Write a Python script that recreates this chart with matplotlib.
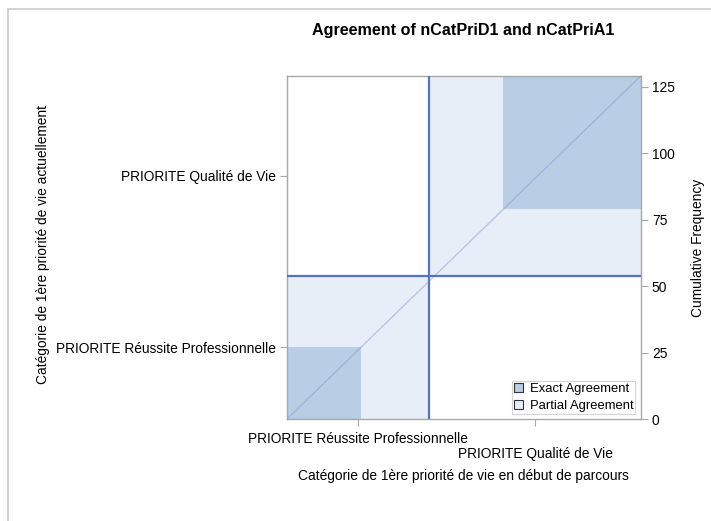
import matplotlib
matplotlib.use("Agg")
import matplotlib.pyplot as plt
from matplotlib.patches import Rectangle, Patch
import numpy as np

# Categories (same for both variables)
categories = ["PRIORITE Réussite Professionnelle", "PRIORITE Qualité de Vie"]
# counts[y_cat][x_cat] : y = nCatPriA1 (actuellement), x = nCatPriD1 (début)
counts = np.array([[27, 27],
                   [25, 50]])
right_ticks = [0, 25, 50, 75, 100, 125]

title = "Agreement of nCatPriD1 and nCatPriA1"
xlabel = "Catégorie de 1ère priorité de vie en début de parcours"
ylabel = "Catégorie de 1ère priorité de vie actuellement"
rlabel = "Cumulative Frequency"

plt.rcParams['font.family'] = ['Liberation Sans', 'DejaVu Sans']

dark = "#B9CDE5"
light = "#E8EEF7"
line_col = "#5573C0"
frame_col = "#A8A8A8"

W, H = 711, 521
fig = plt.figure(figsize=(W / 100, H / 100), dpi=100)
ax = fig.add_axes([286.7 / W, 1 - 419.3 / H, 354 / W, 343.3 / H])

N = counts.sum()
col_tot = counts.sum(axis=0)
row_tot = counts.sum(axis=1)
col_cum = np.concatenate([[0], np.cumsum(col_tot)])
row_cum = np.concatenate([[0], np.cumsum(row_tot)])

k = len(categories)
for i in range(k):
    # partial agreement box (row total x column total)
    ax.add_patch(Rectangle((col_cum[i], row_cum[i]), col_tot[i], row_tot[i],
                           facecolor=light, edgecolor="none", zorder=1))
    # exact agreement square
    x0 = col_cum[i] + counts[:i, i].sum()
    y0 = row_cum[i] + counts[i, :i].sum()
    ax.add_patch(Rectangle((x0, y0), counts[i, i], counts[i, i],
                           facecolor=dark, edgecolor="none", zorder=2))

for c in col_cum[1:-1]:
    ax.axvline(c, color=line_col, lw=1.6, zorder=4)
for r in row_cum[1:-1]:
    ax.axhline(r, color=line_col, lw=1.6, zorder=4)
ax.plot([0, N], [0, N], color="#7F97D0", lw=1.0, alpha=0.45, zorder=3)

ax.set_xlim(0, N)
ax.set_ylim(0, N)
for s in ax.spines.values():
    s.set_color(frame_col)
    s.set_linewidth(1.0)

fs = 9.9
x_mid = (col_cum[:-1] + col_cum[1:]) / 2
y_mid = (row_cum[:-1] + row_cum[1:]) / 2
ax.set_xticks(x_mid)
ax.set_xticklabels([])
ax.set_yticks(y_mid)
ax.set_yticklabels(categories, fontsize=fs)
ax.tick_params(axis="both", color=frame_col, length=5, pad=3)
# staggered x tick labels
for j, (xm, lab) in enumerate(zip(x_mid, categories)):
    ax.annotate(lab, xy=(xm, 0), xycoords=("data", "axes fraction"),
                xytext=(0, -9 - 11 * j), textcoords="offset points",
                ha="center", va="top", fontsize=fs)

ax2 = ax.twinx()
ax2.set_ylim(0, N)
ax2.set_yticks(right_ticks)
ax2.tick_params(axis="y", color=frame_col, length=5, labelsize=fs, pad=3)
for s in ax2.spines.values():
    s.set_visible(False)
ax2.set_ylabel(rlabel, fontsize=fs, labelpad=12)

ax.set_ylabel(ylabel, fontsize=fs, labelpad=0)
ax.yaxis.set_label_coords(-0.67, 0.51)
fig.text(463 / W, 1 - 476 / H, xlabel, ha="center", va="center", fontsize=fs)
fig.text(463 / W, 1 - 31 / H, title, ha="center", va="center",
         fontsize=11.6, fontweight="bold")

handles = [Patch(facecolor=dark, edgecolor="#333333", lw=0.8, label="Exact Agreement"),
           Patch(facecolor=light, edgecolor="#333333", lw=0.8, label="Partial Agreement")]
leg = ax.legend(handles=handles, loc="lower right", fontsize=9.4, frameon=True,
                fancybox=False, handlelength=0.75, handleheight=0.75,
                handletextpad=0.5, borderpad=0.15, labelspacing=0.35,
                borderaxespad=0.4)
leg.get_frame().set_edgecolor("#C8C8C8")
leg.get_frame().set_linewidth(0.8)
leg.set_zorder(10)

# outer border (only top and left visible in the image)
fig.add_artist(Rectangle((8 / W, -0.1), 1.2, 1 - 9 / H + 0.1,
                         transform=fig.transFigure, fill=False,
                         edgecolor="#CCCCCC", lw=1.2))

fig.savefig("out.png", dpi=100)
